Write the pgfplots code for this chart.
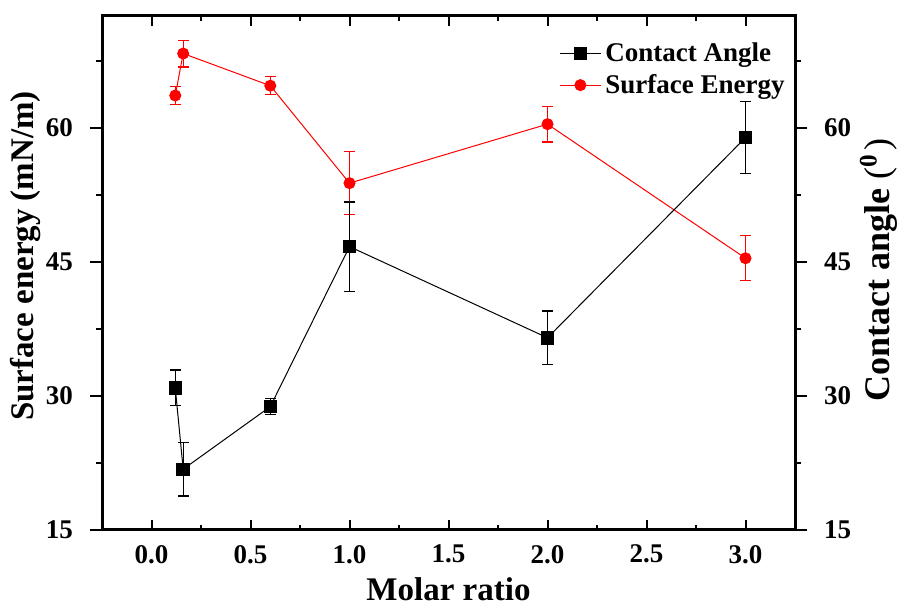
\documentclass[border=0pt]{standalone}
\usepackage{fontspec}
\setmainfont{Liberation Serif}
\usepackage{pgfplots}
\pgfplotsset{compat=1.18}
\pgfplotsset{
  legend image code/.code={\draw[mark repeat=2,mark phase=2,#1] plot coordinates {(0pt,0pt) (10.25pt,0pt) (20.5pt,0pt)};},
  base/.style={
    scale only axis, width=346.5pt, height=257pt,
    xmin=-0.25, xmax=3.25, ymin=15, ymax=72.5,
    axis line style={line width=1.5pt},
    every tick/.style={line width=1pt, black},
    ticklabel style={font=\bfseries\fontsize{13.5}{15}\selectfont},
    /pgf/number format/assume math mode=true,
    label style={font=\bfseries\fontsize{16.5}{18}\selectfont},
  },
  ybase/.style={
    base, hide x axis, tick align=outside,
    ytick={15,30,45,60}, minor ytick={22.5,37.5,52.5,67.5},
    major tick length=6pt, minor tick length=3pt,
  },
}
\pgfplotstableread{
x y e
0.12 63.6 1.0
0.16 68.3 1.5
0.6 64.7 1.0
1.0 53.8 3.5
2.0 60.4 2.0
3.0 45.4 2.5
}\surface
\pgfplotstableread{
x y e
0.12 30.9 2.0
0.16 21.8 3.0
0.6 28.8 0.9
1.0 46.7 5.0
2.0 36.5 3.0
3.0 58.9 4.0
}\contact
\begin{document}
\begin{tikzpicture}
% x axis and frame, surface energy data
\begin{axis}[base,
  tick align=inside, major tick length=5pt, minor tick length=2.5pt,
  xtick={0,0.5,1,1.5,2,2.5,3}, minor xtick={0.25,0.75,1.25,1.75,2.25,2.75},
  xtick pos=both, xticklabel pos=lower,
  xticklabel style={yshift=-4pt, /pgf/number format/.cd, fixed, fixed zerofill, precision=1},
  ytick=\empty,
  xlabel={Molar ratio},
]
\addplot[red, line width=0.5pt, mark=*, mark size=2.75pt,
  error bars/.cd, y dir=both, y explicit,
  error bar style={red, line width=0.6pt},
  error mark options={red, rotate=90, mark size=2.7pt, line width=0.6pt}]
  table[x=x, y=y, y error=e] {\surface};
\end{axis}
% left y axis
\begin{axis}[ybase, axis y line*=left,
  yticklabel style={xshift=-5pt},
  ylabel={Surface energy (mN/m)},
  ylabel style={at={([xshift=-38pt]rel axis cs:0,0.533)}, anchor=center},
]
\end{axis}
% right y axis, contact angle data
\begin{axis}[ybase, axis y line*=right,
  yticklabel style={xshift=5pt},
  ylabel={Contact angle {\mdseries(}\textsuperscript{0}\hspace{2pt}{\mdseries)}},
  ylabel style={at={([xshift=41.75pt]rel axis cs:1,0.506)}, anchor=center,
    font=\bfseries\fontsize{18}{20}\selectfont},
  legend style={at={(rel axis cs:1,1)}, anchor=north east, xshift=0pt, yshift=-9pt,
    draw=none, fill=none, font=\bfseries\fontsize{13.5}{15}\selectfont,
    cells={anchor=west}, row sep=1pt},
]
\addplot[black, line width=0.5pt, mark=square*, mark size=3.1pt,
  error bars/.cd, y dir=both, y explicit,
  error bar style={black, line width=0.6pt},
  error mark options={black, rotate=90, mark size=2.7pt, line width=0.6pt}]
  table[x=x, y=y, y error=e] {\contact};
\addlegendentry{Contact Angle}
\addlegendimage{red, line width=0.5pt, mark=*, mark size=2.75pt}
\addlegendentry{Surface Energy}
\end{axis}
\pgfresetboundingbox
\path (current axis.south west) ++(-51pt,-39pt) rectangle ++(448.5pt,304pt);
\end{tikzpicture}
\end{document}
